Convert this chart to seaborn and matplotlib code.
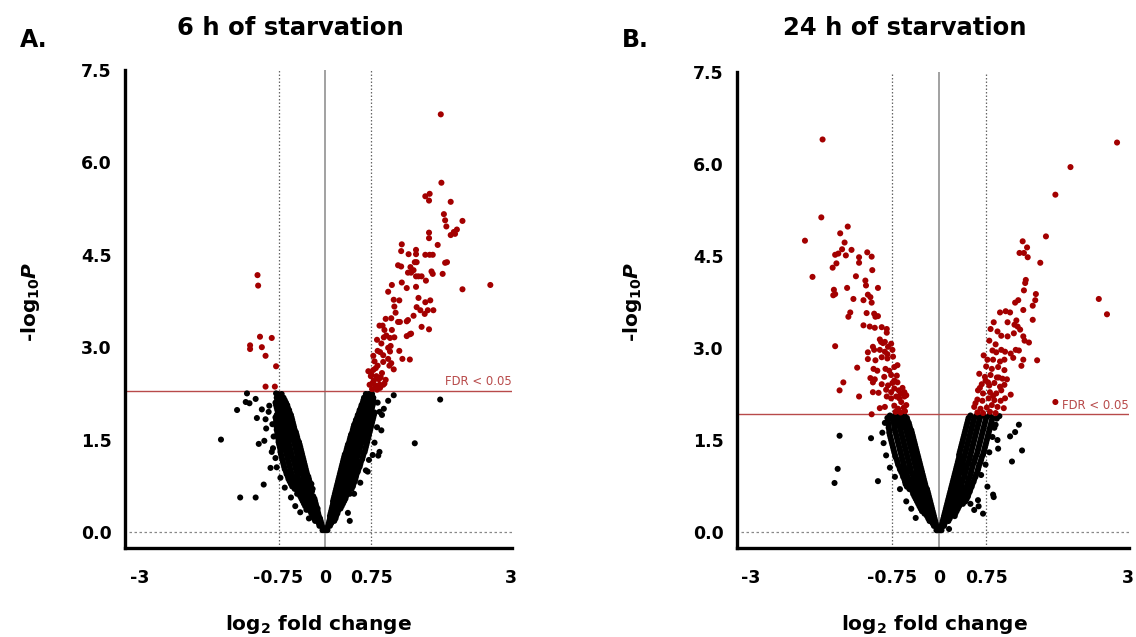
import matplotlib
matplotlib.use("Agg")
import matplotlib.pyplot as plt
import seaborn as sns
import pandas as pd

sns.set_style("white")
plt.rcParams["font.family"] = ["DejaVu Sans"]
plt.rcParams["text.color"] = "black"
plt.rcParams["mathtext.fontset"] = "custom"
plt.rcParams["mathtext.rm"] = "DejaVu Sans:bold"
plt.rcParams["mathtext.it"] = "DejaVu Sans:bold:italic"
plt.rcParams["mathtext.bf"] = "DejaVu Sans:bold"

# ---------------------------------------------------------------- data
titles = ["6 h of starvation", "24 h of starvation"]
panel_tags = ["A.", "B."]
fdr_cutoff = [2.29, 1.92]
x_ticks = [-3, -0.75, 0, 0.75, 3]
x_ticklabels = ["-3", "-0.75", "0", "0.75", "3"]
y_ticks = [0.0, 1.5, 3.0, 4.5, 6.0, 7.5]
y_ticklabels = ["0.0", "1.5", "3.0", "4.5", "6.0", "7.5"]

# 6 h: significant proteins (log2 FC, -log10 P)
sig6_x = [-1.09, -1.08, -1.05, -0.86, -1.21, -1.21, -1.02, -0.96, -0.79, -0.96, -0.81,
          1.87, 1.88, 1.62, 1.69, 1.68, 2.03, 1.92, 1.94, 1.96, 2.22, 2.13, 2.08, 2.03, 2.10,
          1.68, 1.68, 1.24, 1.82, 1.23, 1.35, 1.47, 1.47, 1.62, 1.69, 1.74, 1.18, 1.23, 1.38,
          1.45, 1.48, 1.43, 1.34, 1.39, 1.51, 1.47, 1.56, 1.72, 1.74, 1.63, 1.90, 1.94, 1.97,
          2.67, 2.22, 1.08, 1.02, 1.24, 1.32, 1.47, 1.11, 1.20, 1.51, 1.62, 1.70, 1.75, 1.66,
          1.61, 1.48, 1.54, 1.12, 1.14, 1.07, 0.98, 0.88, 0.93, 1.18, 1.21, 1.32, 1.34, 1.43,
          1.39, 1.32, 1.37, 1.56, 1.68, 1.08, 1.05, 1.12, 0.96, 0.99, 0.95, 0.84, 0.91, 1.02,
          1.06, 1.05, 1.20, 1.25, 1.37, 1.02, 0.94, 0.89, 0.85, 0.78, 0.80, 0.85, 0.94, 1.04,
          1.11, 1.07, 0.78, 0.70, 0.74, 0.83, 0.90, 0.77, 0.81, 0.88, 0.94, 0.96, 0.72, 0.76,
          0.84, 0.79, 0.87, 0.92, 0.98, 0.75, 0.82, 0.89]
sig6_y = [4.17, 4.00, 3.17, 3.15, 3.03, 2.97, 3.00, 2.86, 2.69, 2.36, 2.36,
          6.78, 5.67, 5.45, 5.49, 5.38, 5.36, 5.16, 5.06, 4.96, 5.05, 4.91, 4.87, 4.82, 4.84,
          4.86, 4.77, 4.67, 4.66, 4.56, 4.51, 4.58, 4.51, 4.50, 4.50, 4.50, 4.33, 4.31, 4.30,
          4.38, 4.38, 4.25, 4.21, 4.21, 4.15, 4.15, 4.15, 4.23, 4.19, 4.08, 4.19, 4.37, 4.38,
          4.01, 3.94, 4.01, 3.90, 4.05, 3.96, 3.98, 3.77, 3.76, 3.80, 3.73, 3.76, 3.60, 3.60,
          3.54, 3.65, 3.60, 3.66, 3.56, 3.47, 3.46, 3.35, 3.35, 3.41, 3.41, 3.42, 3.44, 3.51,
          3.22, 3.18, 3.21, 3.33, 3.29, 3.28, 3.15, 3.16, 3.28, 3.19, 3.16, 3.12, 3.06, 2.99,
          3.02, 2.93, 2.94, 2.81, 2.80, 2.81, 2.87, 2.92, 2.94, 2.86, 2.77, 2.70, 2.76, 2.70,
          2.64, 2.74, 2.63, 2.61, 2.53, 2.53, 2.51, 2.42, 2.38, 2.39, 2.39, 2.41, 2.39, 2.32,
          2.31, 2.46, 2.48, 2.58, 2.47, 2.55, 2.66, 2.34]

# 6 h: non-significant proteins, listed by -log10 P band
ns6_rows = {
    0.03: [-0.04, -0.02, 0.02, 0.04],
    0.06: [-0.03, 0.03],
    0.10: [-0.09, -0.05, 0.05, 0.08],
    0.14: [-0.10, -0.06, 0.06, 0.10],
    0.18: [-0.16, -0.12, -0.07, 0.07, 0.11, 0.15],
    0.22: [-0.18, -0.13, -0.08, 0.08, 0.12, 0.17],
    0.26: [-0.20, -0.15, -0.10, 0.08, 0.13, 0.18],
    0.30: [-0.22, -0.16, -0.11, 0.09, 0.14, 0.20],
    0.34: [-0.24, -0.18, -0.12, 0.10, 0.15, 0.21],
    0.38: [-0.29, -0.23, -0.16, -0.12, 0.11, 0.16, 0.22, 0.25],
    0.42: [-0.32, -0.27, -0.20, -0.14, 0.12, 0.17, 0.22, 0.27],
    0.46: [-0.34, -0.28, -0.21, -0.15, 0.13, 0.18, 0.24, 0.29],
    0.50: [-0.36, -0.30, -0.22, -0.16, 0.13, 0.19, 0.25, 0.31],
    0.54: [-0.38, -0.31, -0.24, -0.17, 0.14, 0.20, 0.27, 0.33],
    0.58: [-0.40, -0.33, -0.26, -0.19, 0.15, 0.21, 0.28, 0.34],
    0.62: [-0.45, -0.38, -0.30, -0.23, 0.16, 0.22, 0.29, 0.36, 0.40],
    0.66: [-0.44, -0.36, -0.28, -0.21, 0.17, 0.23, 0.30, 0.37],
    0.70: [-0.49, -0.43, -0.34, -0.26, -0.20, 0.18, 0.24, 0.31, 0.38, 0.43],
    0.74: [-0.53, -0.48, -0.39, -0.31, -0.23, 0.19, 0.25, 0.32, 0.39, 0.45],
    0.78: [-0.55, -0.45, -0.36, -0.28, -0.22, 0.20, 0.26, 0.33, 0.40, 0.46],
    0.82: [-0.57, -0.50, -0.41, -0.33, -0.25, 0.21, 0.27, 0.34, 0.41, 0.48],
    0.86: [-0.59, -0.51, -0.43, -0.34, -0.26, 0.22, 0.28, 0.35, 0.42, 0.49],
    0.90: [-0.60, -0.52, -0.44, -0.35, -0.27, 0.23, 0.29, 0.36, 0.43, 0.50],
    0.94: [-0.62, -0.54, -0.45, -0.37, -0.29, 0.24, 0.30, 0.37, 0.44, 0.51],
    0.98: [-0.63, -0.55, -0.46, -0.38, -0.30, 0.25, 0.31, 0.38, 0.45, 0.53],
    1.02: [-0.65, -0.56, -0.47, -0.39, -0.31, 0.26, 0.32, 0.39, 0.46, 0.54],
    1.06: [-0.66, -0.57, -0.48, -0.40, -0.32, 0.27, 0.34, 0.41, 0.48, 0.56],
    1.10: [-0.67, -0.58, -0.49, -0.41, -0.33, 0.28, 0.35, 0.42, 0.49, 0.57],
    1.14: [-0.68, -0.59, -0.50, -0.42, -0.34, 0.29, 0.36, 0.43, 0.50, 0.58],
    1.18: [-0.69, -0.60, -0.51, -0.43, -0.35, 0.30, 0.37, 0.44, 0.51, 0.60],
    1.22: [-0.70, -0.61, -0.53, -0.44, -0.36, 0.31, 0.38, 0.45, 0.52, 0.61],
    1.26: [-0.71, -0.62, -0.54, -0.45, -0.37, 0.32, 0.39, 0.46, 0.53, 0.62],
    1.30: [-0.72, -0.63, -0.55, -0.46, -0.38, 0.34, 0.41, 0.48, 0.55, 0.64],
    1.34: [-0.72, -0.64, -0.56, -0.47, -0.39, 0.35, 0.42, 0.49, 0.56, 0.65],
    1.38: [-0.73, -0.65, -0.57, -0.48, -0.40, 0.36, 0.43, 0.50, 0.57, 0.66],
    1.42: [-0.74, -0.66, -0.58, -0.49, -0.41, 0.37, 0.44, 0.51, 0.58, 0.67],
    1.46: [-0.75, -0.67, -0.59, -0.50, -0.42, 0.39, 0.46, 0.53, 0.60, 0.68],
    1.50: [-0.75, -0.68, -0.60, -0.52, -0.44, 0.40, 0.47, 0.54, 0.61, 0.69],
    1.54: [-0.76, -0.69, -0.61, -0.53, -0.45, 0.41, 0.48, 0.55, 0.62, 0.70],
    1.58: [-0.77, -0.70, -0.62, -0.54, -0.46, 0.42, 0.49, 0.56, 0.63, 0.71],
    1.62: [-0.77, -0.71, -0.63, -0.55, -0.47, 0.44, 0.51, 0.58, 0.65, 0.72],
    1.66: [-0.78, -0.71, -0.64, -0.56, -0.49, 0.45, 0.52, 0.59, 0.66, 0.73],
    1.70: [-0.78, -0.72, -0.65, -0.57, -0.50, 0.46, 0.53, 0.60, 0.67, 0.74],
    1.74: [-0.78, -0.72, -0.65, -0.58, -0.51, 0.47, 0.54, 0.61, 0.68, 0.75],
    1.78: [-0.79, -0.73, -0.66, -0.59, -0.52, 0.49, 0.56, 0.63, 0.70, 0.76],
    1.82: [-0.79, -0.74, -0.67, -0.60, -0.53, 0.50, 0.57, 0.64, 0.71, 0.77],
    1.86: [-0.80, -0.75, -0.68, -0.61, -0.54, 0.52, 0.59, 0.65, 0.72, 0.78],
    1.90: [-0.78, -0.72, -0.65, -0.59, -0.55, 0.53, 0.60, 0.66, 0.73, 0.79],
    1.94: [-0.76, -0.70, -0.63, -0.57, 0.55, 0.62, 0.68, 0.74, 0.80],
    1.98: [-0.77, -0.71, -0.64, -0.58, 0.56, 0.63, 0.69, 0.75],
    2.02: [-0.78, -0.72, -0.66, -0.60, 0.58, 0.64, 0.70, 0.76],
    2.06: [-0.79, -0.73, -0.67, -0.61, 0.59, 0.65, 0.71, 0.77],
    2.10: [-0.80, -0.75, -0.69, -0.63, 0.61, 0.67, 0.72, 0.78],
    2.14: [-0.77, -0.71, -0.65, 0.62, 0.68, 0.73, 0.78],
    2.18: [-0.78, -0.72, -0.67, 0.63, 0.68, 0.73, 0.78],
    2.24: [-0.76, -0.70, 0.66, 0.71, 0.76],
}
ns6_out_x = [-1.26, -1.28, -1.22, -1.12, -1.42, -1.02, -0.91, -1.10, -0.96, -0.95, -1.68,
             -1.07, -0.98, -0.84, -0.88, -0.99, -1.37, -1.12, -0.79, 1.86, 1.45, 1.11,
             0.86, 0.69, 0.40, 0.37, 0.95, 0.88,
             -0.85, -0.83, -0.86, -0.80, -0.78, -0.72, -0.65, -0.55, -0.48, -0.40,
             -0.90, -0.30, -0.26,
             0.85, 0.92, 0.84, 0.80, 0.77, 0.71, 0.66, 0.57, 0.47, 0.91, 0.88, 1.02]
ns6_out_y = [2.25, 2.11, 2.09, 2.16, 1.98, 1.99, 1.95, 1.85, 1.83, 1.68, 1.50,
             1.43, 1.48, 1.36, 1.04, 0.77, 0.56, 0.56, 2.25, 2.15, 1.44, 2.22,
             1.24, 0.98, 0.18, 0.31, 2.00, 1.95,
             1.75, 1.55, 1.30, 1.20, 1.05, 0.88, 0.72, 0.56, 0.42, 0.32,
             2.05, 0.36, 0.22,
             2.10, 1.90, 1.70, 1.45, 1.25, 1.17, 1.00, 0.80, 0.62, 1.65, 1.30, 2.13]

# 24 h: significant proteins
sig24_x = [-1.85, -1.87, -2.13, -1.45, -1.57, -1.50, -1.54, -1.39, -1.65, -1.60, -1.48,
           -1.14, -1.07, -1.27, -1.27, -1.63, -1.69, -1.06, -2.01, -1.32, -1.17, -1.16,
           -1.67, -1.46, -0.97, -1.68, -1.65, -1.13, -1.09, -1.36, -1.20, -1.07, -1.41,
           -1.44, -1.15, -1.03, -0.97, -1.01, -1.20, -1.10, -1.02, -0.91, -0.83, -0.83,
           -1.65, -1.05, -0.94, -0.89, -0.92, -0.86, -0.81, -0.76, -1.13, -1.03, -0.94,
           -0.86, -0.82, -0.74, -1.13, -1.01, -0.91, -0.82, -0.73, -1.30, -1.04, -0.98,
           -0.85, -0.79, -0.71, -1.09, -1.02, -0.87, -0.76, -0.67, -0.71, -1.52, -1.58,
           -1.05, -0.91, -0.81, -0.74, -0.66, -1.27, -1.05, -0.96, -0.84, -0.76, -0.71,
           -0.64, -0.61, -0.55, -0.83, -0.76, -0.68, -0.63, -0.55, -0.52, -0.94, -0.86,
           -0.71, -0.65, -0.56, -0.52, -1.07, -0.69, -0.61, -0.54, -0.60, -0.58, -0.66,
           2.83, 2.09, 1.85, 1.70, 2.54, 2.67, 1.85, 1.33, 1.40, 1.28, 1.35, 1.41, 1.61,
           1.38, 1.37, 1.35, 1.54, 1.53, 1.26, 1.21, 1.49, 1.34, 1.06, 1.13, 0.97, 1.49,
           1.09, 1.23, 1.20, 1.25, 0.87, 0.82, 1.29, 0.93, 0.99, 1.19, 1.09, 1.34, 1.36,
           1.43, 0.80, 0.90, 1.22, 1.27, 0.85, 0.91, 0.99, 1.05, 1.14, 1.18, 1.34, 1.56,
           1.31, 0.77, 0.86, 0.97, 1.04, 0.75, 0.84, 0.94, 1.04, 0.64, 0.73, 0.82, 0.92,
           1.01, 1.08, 0.68, 0.80, 0.88, 0.97, 1.04, 0.62, 0.70, 0.81, 0.91, 0.99, 1.14,
           1.05, 0.61, 0.69, 0.79, 0.88, 0.98, 0.56, 0.66, 0.76, 0.84, 0.93, 1.03, 0.61,
           0.70, 0.81, 0.90, 0.65, 0.74, 0.86, 0.95, 0.58, 0.71, 0.78]
sig24_y = [6.40, 5.13, 4.75, 4.98, 4.87, 4.72, 4.61, 4.60, 4.52, 4.54, 4.51,
           4.56, 4.49, 4.48, 4.39, 4.38, 4.31, 4.27, 4.16, 4.17, 4.10, 4.02,
           3.95, 3.98, 3.98, 3.86, 3.88, 3.87, 3.83, 3.80, 3.78, 3.74, 3.58,
           3.51, 3.57, 3.56, 3.52, 3.51, 3.37, 3.35, 3.33, 3.34, 3.31, 3.25,
           3.03, 3.02, 3.14, 3.08, 3.10, 3.10, 3.02, 3.07, 2.93, 2.97, 2.97,
           2.94, 2.90, 2.97, 2.82, 2.80, 2.85, 2.83, 2.86, 2.68, 2.66, 2.63,
           2.66, 2.63, 2.69, 2.51, 2.49, 2.53, 2.56, 2.55, 2.47, 2.44, 2.31,
           2.44, 2.41, 2.39, 2.43, 2.44, 2.21, 2.28, 2.27, 2.32, 2.28, 2.34,
           2.31, 2.26, 2.28, 2.21, 2.18, 2.21, 2.18, 2.21, 2.23, 2.02, 2.04,
           2.06, 2.01, 2.03, 2.07, 1.92, 1.96, 1.95, 1.97, 2.12, 2.35, 2.72,
           6.35, 5.95, 5.50, 4.82, 3.80, 3.55, 2.12, 4.74, 4.64, 4.55, 4.55, 4.48, 4.39,
           4.11, 4.06, 3.94, 3.88, 3.78, 3.78, 3.74, 3.69, 3.62, 3.60, 3.58, 3.58, 3.46,
           3.42, 3.45, 3.38, 3.35, 3.42, 3.31, 3.30, 3.27, 3.20, 3.24, 3.19, 3.19, 3.12,
           3.09, 3.12, 3.06, 2.97, 2.96, 2.96, 2.93, 2.97, 2.94, 2.91, 2.84, 2.81, 2.80,
           2.71, 2.81, 2.81, 2.78, 2.81, 2.70, 2.66, 2.69, 2.64, 2.58, 2.53, 2.56, 2.52,
           2.50, 2.49, 2.41, 2.39, 2.43, 2.37, 2.40, 2.31, 2.26, 2.28, 2.26, 2.31, 2.24,
           2.18, 2.16, 2.14, 2.18, 2.15, 2.14, 2.04, 2.01, 2.03, 2.07, 2.04, 2.02, 1.95,
           1.94, 1.96, 1.94, 2.35, 2.47, 2.22, 2.52, 2.10, 2.88, 2.44]

# 24 h: non-significant proteins, listed by -log10 P band
ns24_rows = {
    0.03: [-0.04, -0.02, 0.02, 0.04],
    0.06: [-0.03, 0.03],
    0.10: [-0.08, -0.04, 0.04, 0.08],
    0.14: [-0.10, -0.05, 0.05, 0.09],
    0.18: [-0.15, -0.11, -0.06, 0.06, 0.10, 0.15],
    0.22: [-0.17, -0.12, -0.07, 0.07, 0.12, 0.17],
    0.26: [-0.19, -0.13, -0.08, 0.08, 0.13, 0.19, 0.25],
    0.30: [-0.23, -0.18, -0.12, -0.09, 0.09, 0.14, 0.20, 0.26],
    0.34: [-0.27, -0.22, -0.16, -0.10, 0.10, 0.16, 0.22, 0.28],
    0.38: [-0.29, -0.23, -0.17, -0.11, 0.11, 0.17, 0.23, 0.30],
    0.42: [-0.31, -0.25, -0.18, -0.12, 0.12, 0.18, 0.25, 0.32],
    0.46: [-0.33, -0.26, -0.19, -0.13, 0.13, 0.19, 0.26, 0.33, 0.38],
    0.50: [-0.35, -0.28, -0.21, -0.14, 0.14, 0.20, 0.27, 0.35, 0.42],
    0.54: [-0.37, -0.29, -0.22, -0.15, 0.15, 0.21, 0.28, 0.36, 0.44],
    0.58: [-0.39, -0.31, -0.23, -0.16, 0.16, 0.22, 0.30, 0.38, 0.46],
    0.62: [-0.41, -0.33, -0.25, -0.17, 0.17, 0.24, 0.31, 0.39, 0.47],
    0.66: [-0.42, -0.34, -0.26, -0.18, 0.18, 0.25, 0.33, 0.41, 0.49],
    0.70: [-0.47, -0.40, -0.32, -0.24, -0.19, 0.19, 0.26, 0.34, 0.42, 0.50],
    0.74: [-0.51, -0.45, -0.37, -0.29, -0.21, 0.20, 0.27, 0.35, 0.44, 0.52],
    0.78: [-0.53, -0.46, -0.38, -0.30, -0.22, 0.21, 0.28, 0.36, 0.45, 0.53],
    0.82: [-0.54, -0.47, -0.39, -0.31, -0.23, 0.22, 0.29, 0.37, 0.46, 0.55],
    0.86: [-0.55, -0.48, -0.40, -0.32, -0.24, 0.23, 0.30, 0.38, 0.47, 0.56],
    0.90: [-0.57, -0.50, -0.41, -0.33, -0.25, 0.24, 0.31, 0.40, 0.49, 0.58],
    0.94: [-0.58, -0.51, -0.42, -0.34, -0.26, 0.25, 0.32, 0.41, 0.50, 0.59],
    0.98: [-0.60, -0.52, -0.44, -0.35, -0.27, 0.26, 0.34, 0.42, 0.51, 0.61],
    1.02: [-0.62, -0.53, -0.45, -0.36, -0.28, 0.27, 0.35, 0.43, 0.52, 0.62],
    1.06: [-0.63, -0.55, -0.46, -0.37, -0.29, 0.28, 0.36, 0.44, 0.53, 0.63],
    1.10: [-0.65, -0.56, -0.47, -0.38, -0.30, 0.29, 0.37, 0.45, 0.54, 0.64],
    1.14: [-0.66, -0.57, -0.48, -0.39, -0.31, 0.30, 0.38, 0.47, 0.56, 0.66],
    1.18: [-0.67, -0.58, -0.49, -0.40, -0.32, 0.31, 0.39, 0.48, 0.57, 0.67],
    1.22: [-0.69, -0.59, -0.50, -0.41, -0.33, 0.32, 0.40, 0.49, 0.58, 0.68],
    1.26: [-0.70, -0.60, -0.51, -0.42, -0.34, 0.32, 0.41, 0.50, 0.60, 0.70],
    1.30: [-0.71, -0.61, -0.52, -0.43, -0.35, 0.33, 0.42, 0.51, 0.61, 0.71],
    1.34: [-0.72, -0.62, -0.53, -0.44, -0.36, 0.34, 0.43, 0.52, 0.62, 0.72],
    1.38: [-0.73, -0.63, -0.54, -0.45, -0.37, 0.35, 0.44, 0.53, 0.63, 0.73],
    1.42: [-0.74, -0.64, -0.55, -0.46, -0.38, 0.36, 0.45, 0.54, 0.64, 0.74],
    1.46: [-0.75, -0.65, -0.56, -0.47, -0.39, 0.37, 0.46, 0.55, 0.65, 0.75],
    1.50: [-0.76, -0.66, -0.57, -0.48, -0.40, 0.38, 0.47, 0.56, 0.66, 0.76],
    1.54: [-0.77, -0.67, -0.58, -0.49, -0.41, 0.39, 0.48, 0.57, 0.67, 0.77],
    1.58: [-0.78, -0.68, -0.59, -0.50, -0.42, 0.40, 0.49, 0.58, 0.68, 0.78],
    1.62: [-0.79, -0.69, -0.60, -0.51, -0.43, 0.41, 0.50, 0.59, 0.69, 0.79],
    1.66: [-0.79, -0.70, -0.61, -0.52, -0.44, 0.42, 0.51, 0.60, 0.70, 0.80],
    1.70: [-0.80, -0.71, -0.62, -0.54, -0.46, 0.43, 0.52, 0.61, 0.71, 0.81],
    1.74: [-0.80, -0.71, -0.63, -0.55, -0.47, 0.44, 0.53, 0.62, 0.72, 0.82],
    1.78: [-0.81, -0.72, -0.64, -0.56, -0.48, 0.45, 0.54, 0.63, 0.73, 0.83],
    1.82: [-0.81, -0.73, -0.65, -0.57, -0.50, 0.46, 0.55, 0.64, 0.74, 0.84],
    1.86: [-0.82, -0.74, -0.66, -0.59, -0.51, 0.47, 0.56, 0.65, 0.75, 0.85],
    1.90: [-0.78, -0.70, -0.62, -0.55, 0.50, 0.60, 0.70, 0.80],
}
ns24_out_x = [-1.58, -1.08, -1.61, -1.66, -0.97, -0.37, 0.16, 1.27, 1.21, 1.13, 1.32,
              1.16, 0.93, 0.94, 0.86, 0.87, 0.56, 0.63, 0.96, -0.90, -0.88, 0.88,
              -0.84, -0.78, -0.70, -0.62, -0.52, -0.86, -0.44,
              0.90, 0.85, 0.80, 0.74, 0.67, 0.77, 0.62, 0.50, 0.92, 0.70]
ns24_out_y = [1.57, 1.53, 1.03, 0.80, 0.83, 0.23, 0.05, 1.75, 1.63, 1.56, 1.33,
              1.15, 1.50, 1.36, 0.61, 0.57, 0.36, 0.42, 1.89, 1.62, 1.45, 1.70,
              1.25, 1.05, 0.90, 0.70, 0.50, 1.78, 0.38,
              1.75, 1.55, 1.30, 1.10, 0.93, 0.74, 0.52, 0.46, 1.85, 0.30]


def build_frame(sig_x, sig_y, ns_rows, out_x, out_y):
    xs, ys, status = [], [], []
    for y, row in ns_rows.items():
        xs += row
        ys += [y] * len(row)
        status += ["ns"] * len(row)
    xs += out_x
    ys += out_y
    status += ["ns"] * len(out_x)
    xs += sig_x
    ys += sig_y
    status += ["sig"] * len(sig_x)
    return pd.DataFrame({"log2fc": xs, "nlog10p": ys, "status": status})


frames = [
    build_frame(sig6_x, sig6_y, ns6_rows, ns6_out_x, ns6_out_y),
    build_frame(sig24_x, sig24_y, ns24_rows, ns24_out_x, ns24_out_y),
]

# ---------------------------------------------------------------- figure
W, H = 1136, 637
fig = plt.figure(figsize=(W / 100, H / 100), dpi=100)
axes = [
    fig.add_axes([125 / W, 1 - 548 / H, 387 / W, 478 / H]),
    fig.add_axes([737 / W, 1 - 548 / H, 392 / W, 476 / H]),
]
xlims = [(-3.23, 3.02), (-3.21, 3.02)]
title_x = [290 / W, 905 / W]
tag_x = [20 / W, 622 / W]
ylabel_x = [30 / W, 632 / W]
xlabel_x = [318 / W, 934 / W]

red = "#a30000"
fdr_red = "#b84a4a"

for i, ax in enumerate(axes):
    df = frames[i]
    ax.axvline(0, color="#9a9a9a", lw=1.3, zorder=1)
    for xv in (-0.75, 0.75):
        ax.axvline(xv, color="#666666", lw=0.9, ls=(0, (1.2, 1.6)), zorder=1)
    ax.axhline(0, xmin=0.01, color="#888888", lw=0.9, ls=(0, (2, 2)), zorder=1)
    ax.axhline(fdr_cutoff[i], color=fdr_red, lw=1.0, zorder=1)

    sns.scatterplot(data=df, x="log2fc", y="nlog10p", hue="status",
                    palette={"ns": "black", "sig": red}, s=19, linewidth=0,
                    legend=False, ax=ax, zorder=3)

    ax.text(3.02, fdr_cutoff[i] + 0.04, "FDR < 0.05", color=fdr_red,
            fontsize=8.4, ha="right", va="bottom")

    ax.set_xlim(*xlims[i])
    ax.set_ylim(-0.26, 7.5)
    ax.set_xticks(x_ticks)
    ax.set_xticklabels(x_ticklabels)
    ax.set_yticks(y_ticks)
    ax.set_yticklabels(y_ticklabels)
    ax.set_xlabel("")
    ax.set_ylabel("")
    for side in ("top", "right"):
        ax.spines[side].set_visible(False)
    for side in ("left", "bottom"):
        ax.spines[side].set_linewidth(2.4)
        ax.spines[side].set_color("black")
    ax.tick_params(axis="both", direction="out", length=7, width=2.4,
                   colors="black", labelsize=12.5)
    ax.tick_params(axis="x", pad=8)
    ax.tick_params(axis="y", pad=2.5)
    for lab in ax.get_xticklabels() + ax.get_yticklabels():
        lab.set_fontweight("bold")

    fig.text(title_x[i], 1 - 28 / H, titles[i], fontsize=17.5, fontweight="bold",
             ha="center", va="center", color="black")
    fig.text(tag_x[i], 1 - 40 / H, panel_tags[i], fontsize=17, fontweight="bold",
             ha="left", va="center", color="black")
    fig.text(ylabel_x[i], 1 - 302 / H, r"-log$_{10}$$P$", fontsize=14.5,
             fontweight="bold", rotation=90, ha="center", va="center", color="black")
    fig.text(xlabel_x[i], 1 - 625 / H, r"log$_{2}$ fold change", fontsize=14.5,
             fontweight="bold", ha="center", va="center", color="black")

fig.savefig("out.png", dpi=100)
